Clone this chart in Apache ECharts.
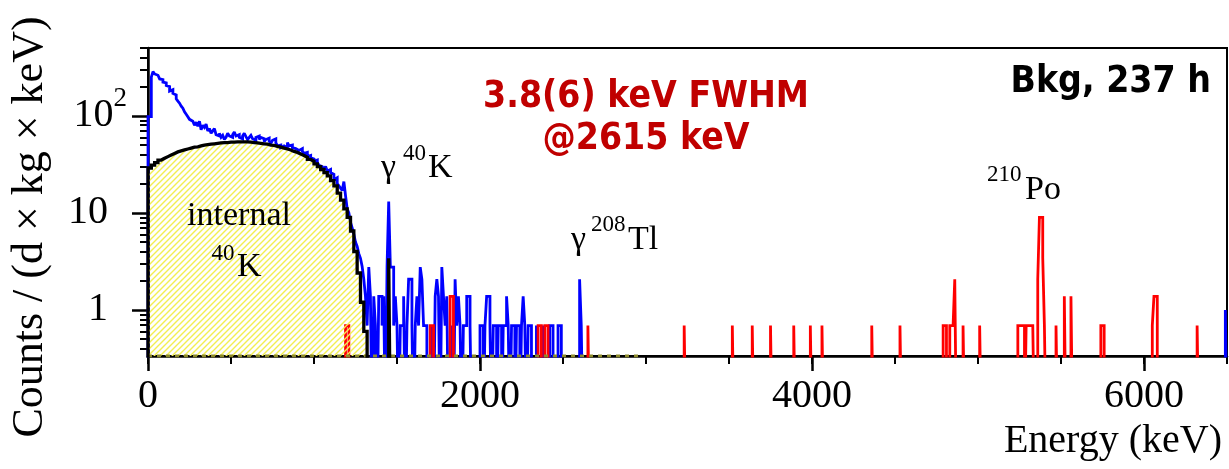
<!DOCTYPE html>
<html>
<head>
<meta charset="utf-8">
<script src="https://cdn.jsdelivr.net/npm/echarts@6/dist/echarts.min.js"></script>
<style>
html,body{margin:0;padding:0;background:#fff;}
#c{width:1229px;height:469px;}
</style>
</head>
<body>
<div id="c"></div>
<script>
// ---- data ----
// Blue histogram (measured background), continuum: 10 keV bins starting at 0 keV
const blueContWidth = 10;
const blueCont = [
  98, 98, 250, 286, 270, 262, 255, 240, 236, 222,
  218, 205, 200, 180, 186, 170, 164, 150, 142, 135,
  126, 120, 110, 104, 98, 92, 88, 84, 80, 86,
  78, 88, 72, 80, 76, 82, 70, 74, 66, 70,
  74, 64, 62, 66, 60, 63, 57, 60, 66, 62,
  60, 64, 68, 62, 64, 60, 58, 62, 66, 61,
  57, 60, 63, 58, 56, 60, 62, 57, 60, 58,
  54, 57, 59, 55, 52, 56, 58, 53, 49, 50,
  47, 49, 50, 47, 53, 49, 50, 47, 46, 48,
  44, 45, 46, 43, 41, 42, 38, 39, 37, 36,
  34, 35, 33, 31, 30, 31, 28, 30, 27, 28,
  26, 25, 22, 23, 20, 19, 18, 17, 21, 15,
  11, 10, 8, 7, 6, 5, 4.5, 3.8, 3.4, 2.8];
// Blue histogram, sparse part: 10 keV bins (start energy, value); empty bins omitted
const blueSparseWidth = 10;
const blueSparseE = [1300,1310,1320,1330,1340,1360,1370,1390,1400,1410,1420,1440,1450,1460,1470,1480,1490,1500,
  1520,1530,1540,1560,1570,1580,1590,1610,1620,1630,1640,1650,1660,1670,1710,1730,1740,1750,
  1770,1780,1790,1800,1830,1850,1860,1870,1880,1900,1910,1920,1930,1940,2000,2010,2030,2040,
  2050,2060,2080,2090,2110,2120,2140,2150,2160,2170,2190,2200,2220,2230,2250,2260,2270,2290,
  2300,2340,2380,2420,2430,2470,2480,2600,2610,6490];
const blueSparseV = [2.07,1.38,0.69,2.76,1.38,1.38,0.69,1.38,1.38,0.69,1.38,2.76,13.1,2.76,2.76,0.69,1.38,0.69,
  0.69,0.69,1.38,0.69,2.07,2.07,0.69,0.69,1.38,0.69,2.76,2.07,0.69,0.69,0.69,1.38,2.07,1.38,
  2.76,1.38,0.69,1.38,0.69,2.07,0.69,1.38,0.69,0.69,0.69,1.38,1.38,0.69,0.69,0.69,0.69,1.38,
  1.38,0.69,0.69,0.69,0.69,0.69,0.69,0.69,1.38,0.69,0.69,0.69,0.69,0.69,0.69,1.38,0.69,0.69,
  0.69,0.69,0.69,0.69,0.69,0.69,0.69,2.07,0.69,1.0];
// Black histogram (internal 40K model), 20 keV bins starting at 0 keV
const blackContWidth = 20;
const blackCont = [29, 31, 33, 35, 36.5, 38, 39.5, 41, 42.5, 43.5,
  44.5, 45.5, 46.5, 47.5, 48, 49, 50, 50.5, 51, 51.5,
  52, 52.5, 53, 53, 53.5, 53.5, 54, 54, 54, 54,
  53.5, 53, 52.5, 52, 51.5, 51, 50, 49.5, 48.5, 47.5,
  46.5, 45.5, 44.5, 43, 42, 40.5, 39, 37.5, 35.5, 34,
  32, 30, 28, 26, 24, 21.5, 19, 16, 13.5, 11,
  9, 6.5, 4, 2.4, 1.2, 0.6];
// Black gamma line (10 keV bin)
const blackPeakE = [1450];
const blackPeakV = [3.4];
const blackPeakWidth = 10;
// Red histogram, 10 keV bins (start energy, value)
const redWidth = 10;
const redE = [1190,1200,1700,1710,1820,1830,2350,2360,2390,2400,2650,3230,3520,3640,3750,3890,3990,4060,4360,4530,
  4790,4800,4830,4840,4850,4860,4910,5010,5240,5250,5260,5270,5290,5300,5310,5320,5330,5360,5370,5380,
  5390,5400,5470,5520,5560,5740,5750,6050,6060,6070,6320];
const redV = [0.69,0.69,0.69,0.69,1.38,1.38,0.69,0.69,0.69,0.69,0.69,0.69,0.69,0.69,0.69,0.69,0.69,0.69,0.69,0.69,
  0.69,0.69,0.69,0.69,0.69,2.07,0.69,0.69,0.69,0.69,0.69,0.69,0.69,0.69,0.69,0.69,0.69,2.07,9.0,9.0,
  3.45,0.69,0.69,1.38,1.38,0.69,0.69,0.69,1.38,1.38,0.69];
// dashed zero-level of the model histogram
const baselineE = [0, 2980];

// axes
const xMin = 0, xMax = 6500;
const yMin = 0.335, yMax = 500;
const xMajor = [0, 2000, 4000, 6000];
const yMajor = [1, 10, 100];
const yMinor = [0.4,0.5,0.6,0.7,0.8,0.9,2,3,4,5,6,7,8,9,20,30,40,50,60,70,80,90,200,300,400,500];

// ---- helpers ----
const FLOOR = 0.05; // below axis min -> clipped
function histPoints(bins) { // bins: [lo, width, value]
  const pts = []; let prevEnd = null;
  bins.forEach(b => {
    const lo = b[0], hi = b[0] + b[1], v = b[2];
    if (prevEnd === null) pts.push([lo, FLOOR]);
    else if (lo > prevEnd + 1e-9) { pts.push([prevEnd, FLOOR]); pts.push([lo, FLOOR]); }
    pts.push([lo, v]); pts.push([hi, v]);
    prevEnd = hi;
  });
  pts.push([prevEnd, FLOOR]);
  return pts;
}
const blueBins = blueCont.map((v, i) => [i * blueContWidth, blueContWidth, v])
  .concat(blueSparseE.map((e, i) => [e, blueSparseWidth, blueSparseV[i]]));
const blackBins = blackCont.map((v, i) => [i * blackContWidth, blackContWidth, v]);
const blackPeakBins = blackPeakE.map((e, i) => [e, blackPeakWidth, blackPeakV[i]]);
const redBins = redE.map((e, i) => [e, redWidth, redV[i]]);

const bluePts = histPoints(blueBins);
const blackPts = histPoints(blackBins);
const blackPeakPts = histPoints(blackPeakBins);
const redPts = histPoints(redBins);
const blackAreaPts = blackPts.map(p => [p[0], Math.max(p[1], yMin)]);

// hatch pattern
const pat = document.createElement('canvas');
pat.width = 6; pat.height = 6;
const pc = pat.getContext('2d');
pc.strokeStyle = '#f2ee52'; pc.lineWidth = 1.4;
pc.beginPath();
pc.moveTo(0, 6); pc.lineTo(6, 0);
pc.moveTo(-1, 1); pc.lineTo(1, -1);
pc.moveTo(5, 7); pc.lineTo(7, 5);
pc.stroke();

const SERIF = '"Liberation Serif", "Times New Roman", serif';
const SANS = '"DejaVu Sans", Verdana, sans-serif';

const chart = echarts.init(document.getElementById('c'), null, {renderer: 'canvas'});

function txt(text, x, y, size, align, opts) {
  return Object.assign({
    type: 'text', x: x, y: y, z: 100,
    style: {text: text, fill: '#000', fontSize: size, fontFamily: SERIF,
      align: align, verticalAlign: 'middle', textAlign: align, textVerticalAlign: 'middle'}
  }, opts || {});
}
function boldTxt(text, x, y, size, align, color, sx) {
  return {type: 'text', x: x, y: y, z: 100, scaleX: sx, scaleY: 1,
    style: {text: text, fill: color, fontSize: size, fontWeight: 'bold', fontFamily: SANS,
      align: align, verticalAlign: 'middle', textAlign: align, textVerticalAlign: 'middle'}};
}
function histLine(color, width) {
  return {color: color, width: width, join: 'miter', miterLimit: 2, cap: 'butt'};
}

const option = {
  animation: false,
  backgroundColor: '#fff',
  grid: {left: 148, right: 2, top: 48, bottom: 113, show: true, borderColor: '#000', borderWidth: 2, backgroundColor: 'transparent'},
  xAxis: [{
    type: 'value', min: xMin, max: xMax, position: 'bottom',
    axisLine: {lineStyle: {color: '#000', width: 2.5}},
    axisTick: {customValues: xMajor, length: 15, lineStyle: {color: '#000', width: 2.5}},
    axisLabel: {customValues: xMajor, margin: 20, color: '#000', fontSize: 40, fontFamily: SERIF,
      formatter: v => String(v)},
    splitLine: {show: false}
  }, {
    type: 'value', min: xMin, max: xMax, interval: 500, position: 'bottom',
    axisLine: {show: false},
    axisTick: {length: 8, lineStyle: {color: '#000', width: 2}},
    axisLabel: {show: false},
    splitLine: {show: false}
  }],
  yAxis: [{
    type: 'log', logBase: 10, min: yMin, max: yMax, position: 'left',
    axisLine: {show: true, lineStyle: {color: '#000', width: 2.5}},
    axisTick: {show: true, customValues: yMajor, length: 16, lineStyle: {color: '#000', width: 2.5}},
    axisLabel: {
      customValues: yMajor, margin: 21, color: '#000',
      formatter: v => {
        if (Math.abs(v - 100) < 1e-6) return '{m|10}{s|2}';
        if (Math.abs(v - 10) < 1e-6) return '{m|10}{p|}';
        if (Math.abs(v - 1) < 1e-6) return '{m|1}{p|}';
        return '';
      },
      rich: {
        m: {fontSize: 40, fontFamily: SERIF, color: '#000', lineHeight: 60},
        s: {fontSize: 27, fontFamily: SERIF, color: '#000', lineHeight: 27, verticalAlign: 'top'},
        p: {width: 19, fontSize: 40, lineHeight: 60}
      }
    },
    splitLine: {show: false}
  }, {
    type: 'log', logBase: 10, min: yMin, max: yMax, position: 'left',
    axisLine: {show: false},
    axisTick: {show: true, customValues: yMinor, length: 8, lineStyle: {color: '#000', width: 2}},
    axisLabel: {show: false},
    splitLine: {show: false}
  }],
  series: [
    {type: 'line', name: 'blue', data: bluePts, showSymbol: false, symbol: 'none', clip: true,
      lineStyle: histLine('#0000ff', 2.8), z: 3},
    {type: 'line', name: 'red', data: redPts, showSymbol: false, symbol: 'none', clip: true,
      lineStyle: histLine('#ff0000', 2.8), z: 4},
    {type: 'line', name: 'hatch', data: blackAreaPts, showSymbol: false, symbol: 'none', clip: true,
      lineStyle: {width: 0, opacity: 0},
      areaStyle: {origin: 'start', color: {image: pat, repeat: 'repeat'}, opacity: 1}, z: 5},
    {type: 'line', name: 'baseline', data: baselineE.map(e => [e, yMin]), showSymbol: false, symbol: 'none', clip: true,
      lineStyle: {color: '#8c8a2a', width: 3, type: [4, 5]}, z: 6},
    {type: 'line', name: 'black', data: blackPts, showSymbol: false, symbol: 'none', clip: true,
      lineStyle: histLine('#000', 3.3), z: 7},
    {type: 'line', name: 'blackPeak', data: blackPeakPts, showSymbol: false, symbol: 'none', clip: true,
      lineStyle: histLine('#000', 3.3), z: 7}
  ],
  graphic: [
    txt('Counts / (d \u00d7 kg \u00d7 keV)', 30, 227, 44, 'center', {rotation: Math.PI / 2}),
    txt('Energy (keV)', 1222, 441, 40, 'right'),
    txt('internal', 239, 216, 34, 'center'),
    txt('40', 223, 254, 23, 'center'),
    txt('K', 237, 267, 34, 'left'),
    txt('\u03b3', 381, 168, 34, 'left'),
    txt('40', 403, 154, 23, 'left'),
    txt('K', 428, 168, 34, 'left'),
    txt('\u03b3', 571, 240, 34, 'left'),
    txt('208', 591, 225, 23, 'left'),
    txt('Tl', 628, 240, 34, 'left'),
    txt('210', 987, 175, 23, 'left'),
    txt('Po', 1025, 190, 34, 'left'),
    boldTxt('3.8(6) keV FWHM', 646, 97, 37, 'center', '#c00000', 0.9),
    boldTxt('@2615 keV', 646, 139, 37, 'center', '#c00000', 0.9),
    boldTxt('Bkg, 237 h', 1211, 82, 37, 'right', '#000', 0.9)
  ]
};
chart.setOption(option);
</script>
</body>
</html>
